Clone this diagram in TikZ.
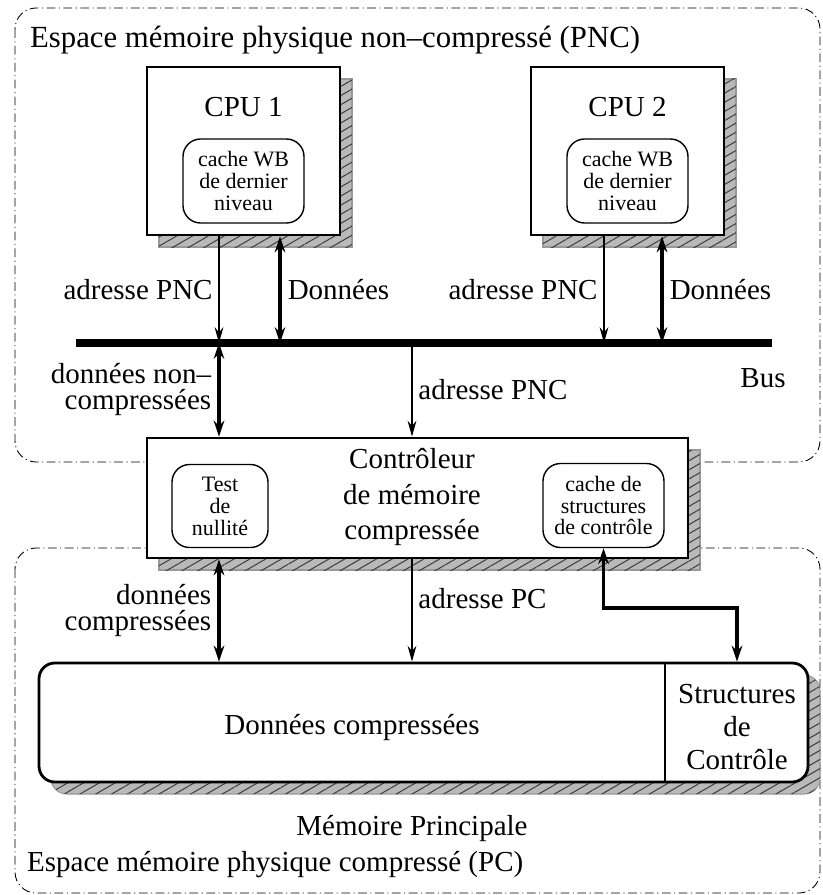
\documentclass[tikz,border=0pt]{standalone}
\usepackage{fontspec}
\setmainfont{Liberation Serif}
\usetikzlibrary{arrows.meta,shadows,patterns.meta}

\begin{document}
\begin{tikzpicture}[font=\fontsize{16.5}{15}\selectfont,
					hatched/.style={general shadow={fill=gray!55,draw=gray!80,line width=.6pt,
						shadow xshift=.24cm,shadow yshift=-.24cm},
						general shadow={pattern={Lines[angle=30,distance=4.5pt,line width=.6pt]},
						pattern color=gray!50!black,shadow xshift=.24cm,shadow yshift=-.24cm}},
					box/.style={draw,line width=1.6pt,fill=white,hatched},
					cache/.style={draw,rounded corners=10pt,line width=.8pt,align=center,
						font=\fontsize{12.5}{12.5}\selectfont,inner sep=1pt},
					region/.style={dash pattern=on 5pt off 2pt on .6pt off 2pt,line width=.5pt,rounded corners=12pt},
					thin arrow/.style={-{Stealth[length=9pt,width=5pt]},line width=.7pt},
					data arrow/.style={{Stealth[length=9pt,width=6pt]}-{Stealth[length=9pt,width=6pt]},line width=2.2pt}]

  \useasboundingbox (0,0) rectangle (16.44,-17.9);

  % espaces memoire
  \draw[region] (0.3,-0.16) rectangle (16.4,-9.24);
  \draw[region] (0.3,-10.96) rectangle (16.4,-17.86);
  \node[anchor=west,font=\fontsize{17.5}{15}\selectfont] (pnc) at (0.48,-0.8)
    {Espace mémoire physique non–compressé (PNC)};
  \node[anchor=west] (pc) at (0.42,-17.3) {Espace mémoire physique compressé (PC)};

  % processeurs
  \node[box,minimum width=3.86cm,minimum height=3.36cm] (cpuA) at (4.87,-3.02) {};
  \node[box,minimum width=3.86cm,minimum height=3.36cm] (cpuB) at (12.55,-3.02) {};
  \node (cpuAlbl) at (4.87,-2.14) {CPU 1};
  \node (cpuBlbl) at (12.55,-2.14) {CPU 2};
  \node[cache,minimum width=2.42cm,minimum height=1.68cm] (cacheA) at (4.87,-3.62)
    {cache WB\\de dernier\\niveau};
  \node[cache,minimum width=2.42cm,minimum height=1.68cm] (cacheB) at (12.55,-3.62)
    {cache WB\\de dernier\\niveau};

  % bus
  \coordinate (busL) at (1.52,-6.86);
  \coordinate (busR) at (15.44,-6.86);
  \draw[line width=4pt] (busL) -- (busR);
  \node (buslbl) at (15.26,-7.56) {Bus};
  \coordinate (busA) at (4.38,-6.86);
  \coordinate (busB) at (5.6,-6.86);
  \coordinate (busC) at (12.08,-6.86);
  \coordinate (busD) at (13.24,-6.86);
  \coordinate (busE) at (8.24,-6.86);

  % controleur
  \node[box,minimum width=10.82cm,minimum height=2.4cm] (ctrl) at (8.35,-9.96) {};
  \node[align=center,font=\fontsize{16.5}{20}\selectfont] (ctrllbl) at (8.24,-9.94)
    {Contrôleur\\de mémoire\\compressée};
  \node[cache,minimum width=1.92cm,minimum height=1.66cm] (test) at (4.4,-10.12)
    {Test\\de\\nullité};
  \node[cache,minimum width=2.42cm,minimum height=1.68cm] (cachectl) at (12.07,-10.11)
    {cache de\\structures\\de contrôle};

  % memoire principale
  \node[box,rounded corners=9pt,minimum width=15.38cm,minimum height=2.38cm] (mem) at (8.47,-14.45) {};
  \coordinate (div) at (13.3,-14.45);
  \draw[line width=.7pt] (div |- mem.north) -- (div |- mem.south);
  \node (donlbl) at (7.04,-14.54) {Données compressées};
  \node[align=center,font=\fontsize{16.5}{19}\selectfont] (strct) at (14.74,-14.54)
    {Structures\\de\\Contrôle};
  \node (memlbl) at (8.24,-16.56) {Mémoire Principale};

  % connexions
  \draw[thin arrow] (cpuA.south -| busA) -- node[left] {adresse PNC} (busA);
  \draw[data arrow] (cpuA.south -| busB) -- node[right] {Données} (busB);
  \draw[thin arrow] (cpuB.south -| busC) -- node[left] {adresse PNC} (busC);
  \draw[data arrow] (cpuB.south -| busD) -- node[right] {Données} (busD);
  \draw[data arrow] (busA) -- node[left,align=right] {données non–\\compressées} (ctrl.north -| busA);
  \draw[thin arrow] (busE) -- node[right] {adresse PNC} (ctrl.north -| busE);
  \draw[data arrow] (ctrl.south -| busA) -- node[left,align=right] {données\\compressées} (mem.north -| busA);
  \draw[thin arrow] (ctrl.south -| busE) -- node[right,pos=.38] {adresse PC} (mem.north -| busE);
  \draw[data arrow] (cachectl.south) |- (14.74,-12.16) -- (mem.north -| strct);
\end{tikzpicture}
\end{document}
